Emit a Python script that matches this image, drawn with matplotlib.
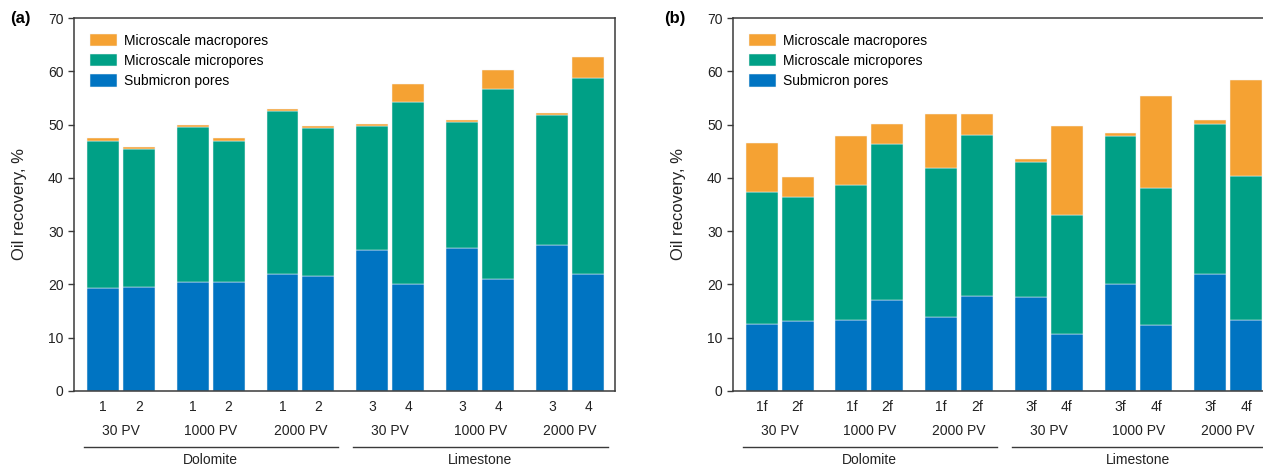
import numpy as np
import matplotlib
matplotlib.use('Agg')
import matplotlib.pyplot as plt
import matplotlib.transforms as mtransforms

# data (%)
sub_a = [19.3, 19.6, 20.4, 20.5, 22.0, 21.6, 26.5, 20.1, 26.9, 21.1, 27.4, 21.9]
micro_a = [27.7, 25.8, 29.1, 26.5, 30.6, 27.8, 23.3, 34.1, 23.6, 35.5, 24.4, 36.9]
macro_a = [0.5, 0.4, 0.4, 0.4, 0.4, 0.4, 0.4, 3.4, 0.4, 3.7, 0.4, 3.9]

sub_b = [12.6, 13.1, 13.3, 17.1, 13.9, 17.9, 17.6, 10.7, 20.1, 12.4, 21.9, 13.3]
micro_b = [24.8, 23.4, 25.3, 29.3, 28.0, 30.2, 25.4, 22.4, 27.8, 25.7, 28.3, 27.1]
macro_b = [9.1, 3.6, 9.3, 3.7, 10.0, 3.8, 0.6, 16.6, 0.5, 17.3, 0.6, 17.9]

samples_a = ['1', '2', '1', '2', '1', '2', '3', '4', '3', '4', '3', '4']
samples_b = ['1f', '2f', '1f', '2f', '1f', '2f', '3f', '4f', '3f', '4f', '3f', '4f']
pv_labels = ['30 PV', '1000 PV', '2000 PV', '30 PV', '1000 PV', '2000 PV']
rocks = ['Dolomite', 'Limestone']
series = ['Submicron pores', 'Microscale micropores', 'Microscale macropores']

c_sub = '#0074C2'
c_micro = '#00A086'
c_macro = '#F5A233'
dark = '#3a3a3a'

plt.rcParams['font.family'] = ['Liberation Sans', 'DejaVu Sans']
plt.rcParams['font.size'] = 10


def panel(ax, sub, micro, macro, samples):
    groups = np.arange(len(pv_labels))
    x = np.ravel(np.column_stack([groups - 0.2, groups + 0.2]))
    sub = np.array(sub)
    micro = np.array(micro)
    macro = np.array(macro)
    kw = dict(width=0.355, edgecolor='#f4f4f4', linewidth=0.35)
    b1 = ax.bar(x, sub, color=c_sub, label=series[0], **kw)
    b2 = ax.bar(x, micro, bottom=sub, color=c_micro, label=series[1], **kw)
    b3 = ax.bar(x, macro, bottom=sub + micro, color=c_macro,
                label=series[2], **kw)

    ax.set_xlim(-0.52, 5.5)
    ax.set_ylim(0, 70)
    ax.set_yticks(np.arange(0, 71, 10))
    ax.set_xticks([])
    ax.tick_params(axis='y', direction='out', length=4, width=1,
                   colors=dark, labelcolor='#222222', labelsize=10)
    for s in ax.spines.values():
        s.set_color(dark)
        s.set_linewidth(1.1)

    ax.set_ylabel('Oil recovery, %', fontsize=12, color='#222222')
    ax.yaxis.set_label_coords(-0.087, 0.5)

    # category labels under the axis
    tr = mtransforms.blended_transform_factory(ax.transData, ax.transAxes)
    for xi, s in zip(x, samples):
        ax.text(xi, -0.043, s, transform=tr, ha='center', va='center',
                color='#222222')
    for g, s in zip(groups, pv_labels):
        ax.text(g, -0.107, s, transform=tr, ha='center', va='center',
                color='#222222')
    for k, r in enumerate(rocks):
        g0 = 3 * k
        ax.plot([g0 - 0.41, g0 + 2.42], [-0.149, -0.149], transform=tr,
                color=dark, lw=1.0, clip_on=False)
        ax.text(g0 + 1, -0.185, r, transform=tr, ha='center', va='center',
                color='#222222')

    ax.legend([b3, b2, b1], [series[2], series[1], series[0]],
              loc='upper left', bbox_to_anchor=(0.029, 0.958),
              frameon=False, borderpad=0, borderaxespad=0,
              handlelength=2.0, handleheight=1.0, handletextpad=0.5,
              labelspacing=0.45, fontsize=10)


fig = plt.figure(figsize=(12.63, 4.66), dpi=100)
ax_a = fig.add_axes([74 / 1263, 75 / 466, 541 / 1263, 373 / 466])
ax_b = fig.add_axes([733 / 1263, 75 / 466, 540 / 1263, 373 / 466])

panel(ax_a, sub_a, micro_a, macro_a, samples_a)
panel(ax_b, sub_b, micro_b, macro_b, samples_b)

fig.text(10 / 1263, 1 - 18 / 466, '(a)', fontsize=12, fontweight='bold',
         ha='left', va='center')
fig.text(664 / 1263, 1 - 18 / 466, '(b)', fontsize=12, fontweight='bold',
         ha='left', va='center')

fig.savefig('out.png', dpi=100)
